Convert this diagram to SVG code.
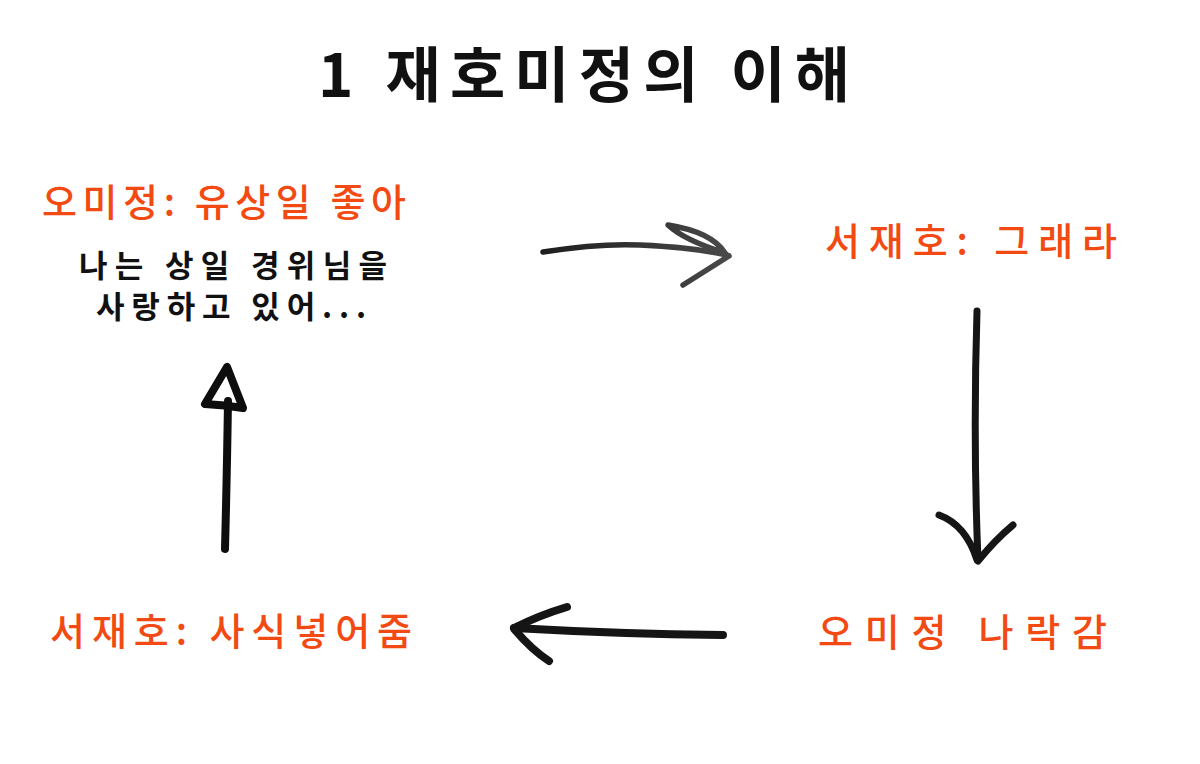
<svg xmlns="http://www.w3.org/2000/svg" width="1200" height="764" viewBox="0 0 1200 764">
  <style>
    .title { font-family: "Noto Sans CJK KR", "Noto Sans", sans-serif; font-size: 60px; font-weight: 700; fill: #111; }
    .red { font-family: "Noto Sans CJK KR", "Noto Sans", sans-serif; font-size: 38px; font-weight: 500; fill: #f24a12; }
    .body { font-family: "Noto Sans CJK KR", "Noto Sans", sans-serif; font-size: 31px; font-weight: 700; fill: #111; }
    .pen { fill: none; stroke-linecap: round; stroke-linejoin: round; }
  </style>
  <defs>
    <linearGradient id="gray" x1="543" y1="0" x2="730" y2="0" gradientUnits="userSpaceOnUse">
      <stop offset="0" stop-color="#1e1e1e"/>
      <stop offset="1" stop-color="#4a4a4a"/>
    </linearGradient>
  </defs>
  <rect width="1200" height="764" fill="#ffffff"/>

  <g id="title">
    <text class="title" x="318" y="97" textLength="532" lengthAdjust="spacing">1 재호미정의 이해</text>
  </g>

  <g id="node-omijeong-like">
    <text class="red" x="42" y="216" textLength="364" lengthAdjust="spacing">오미정: 유상일 좋아</text>
    <text class="body" x="79" y="277" textLength="308" lengthAdjust="spacing">나는 상일 경위님을</text>
    <text class="body" x="96" y="318" textLength="270" lengthAdjust="spacing">사랑하고 있어...</text>
  </g>

  <g id="node-seojaeho-fine">
    <text class="red" x="825" y="255" textLength="292" lengthAdjust="spacing">서재호: 그래라</text>
  </g>

  <g id="node-omijeong-fall">
    <text class="red" x="818" y="646" textLength="289" lengthAdjust="spacing">오미정 나락감</text>
  </g>

  <g id="node-seojaeho-food">
    <text class="red" x="50" y="645" textLength="362" lengthAdjust="spacing">서재호: 사식넣어줌</text>
  </g>

  <g id="connectors">
    <!-- right arrow -->
    <g class="pen" stroke="url(#gray)" stroke-width="5.5">
      <path d="M543 252 Q600 243 640 245 Q690 247 727 255"/>
      <path d="M725 253 Q712 232 668 225 Q684 240 725 253"/>
      <path d="M729 256 L683 285"/>
    </g>
    <!-- down arrow -->
    <g class="pen" stroke="#151515" stroke-width="7">
      <path d="M977 311 Q973 440 978 560"/>
      <path d="M939 515 Q966 525 977 560"/>
      <path d="M1013 525 Q995 540 978 561"/>
    </g>
    <!-- left arrow -->
    <g class="pen" stroke="#151515" stroke-width="8">
      <path d="M723 635 Q620 634 514 628"/>
      <path d="M514 628 Q540 615 567 607"/>
      <path d="M515 630 Q532 650 549 661"/>
    </g>
    <!-- up arrow -->
    <g class="pen" stroke="#0d0d0d" stroke-width="8">
      <path d="M225 549 Q227 470 228 401"/>
      <path d="M227 367 L205 404 Q225 405 243 408 Z"/>
    </g>
  </g>
</svg>
